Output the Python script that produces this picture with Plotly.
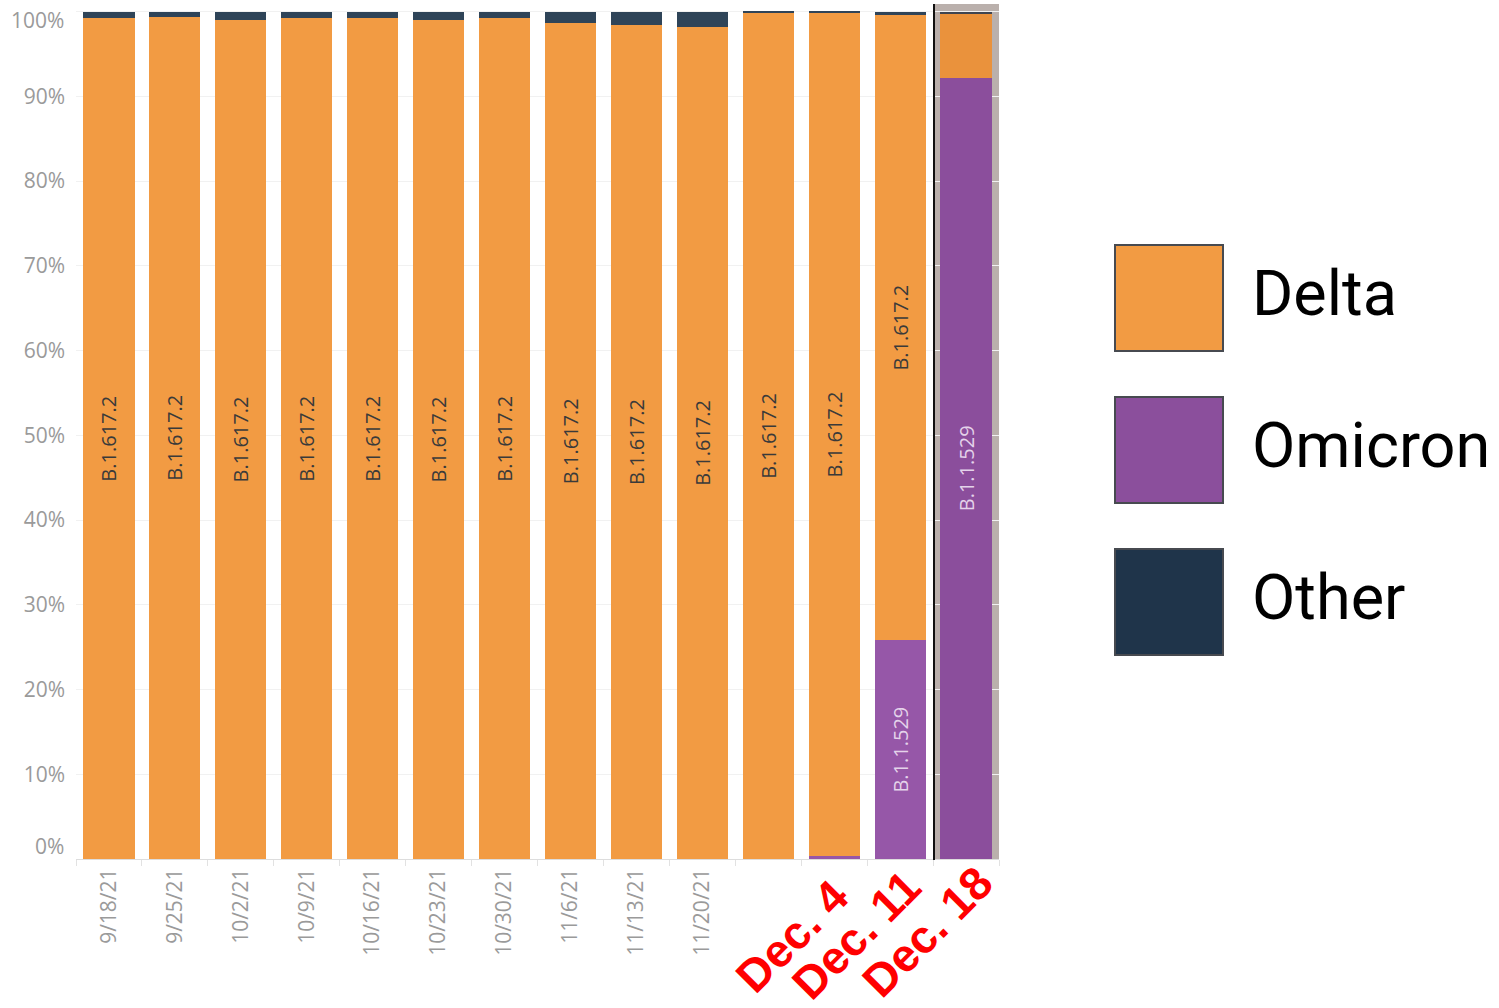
import plotly.graph_objects as go

# ---------------- data ----------------
weeks = ["9/18/21", "9/25/21", "10/2/21", "10/9/21", "10/16/21", "10/23/21", "10/30/21",
         "11/6/21", "11/13/21", "11/20/21", "11/27/21", "12/4/21", "12/11/21", "12/18/21"]
tick_labels = ["9/18/21", "9/25/21", "10/2/21", "10/9/21", "10/16/21", "10/23/21", "10/30/21",
               "11/6/21", "11/13/21", "11/20/21", "", "", "", ""]
highlight_weeks = ["12/4/21", "12/11/21", "12/18/21"]
highlight_labels = ["Dec. 4", "Dec. 11", "Dec. 18"]
y_ticks = [0, 10, 20, 30, 40, 50, 60, 70, 80, 90, 100]
y_tick_labels = ["0%", "10%", "20%", "30%", "40%", "50%", "60%", "70%", "80%", "90%", "100%"]

other_pct = [0.8, 0.6, 1.0, 0.8, 0.8, 1.0, 0.8, 1.4, 1.6, 1.8, 0.15, 0.15, 0.4, 0.25]
omicron_pct = [0, 0, 0, 0, 0, 0, 0, 0, 0, 0, 0, 0.35, 25.8, 92.2]
delta_pct = [100 - o - m for o, m in zip(other_pct, omicron_pct)]

delta_text = ["B.1.617.2"] * 13 + [""]
omicron_text = [""] * 12 + ["B.1.1.529", "B.1.1.529"]

legend_names = ["Delta", "Omicron", "Other"]

# ---------------- styles ----------------
ORANGE = "#F29B43"
PURPLE = "#9657A8"
DARK = "#2F4458"
delta_colors = [ORANGE] * 13 + ["#EA923C"]
omicron_colors = [PURPLE] * 13 + ["#8B4E9C"]
other_colors = [DARK] * 13 + ["#3E4450"]

W, H = 1499, 1008
ML = 76
MR = W - 999
MT = 4
MB = H - 859
PW = W - ML - MR
PH = H - MT - MB
Y_TOP = 100.9


def px(x):
    """pixel x -> paper"""
    return (x - ML) / PW


def py(y):
    """pixel y -> paper"""
    return (H - MB - y) / PH


tick_font = dict(family="Open Sans, Lato, sans-serif", size=21, color="#9A9A9A")
bar_font = "Open Sans, Lato, sans-serif"

fig = go.Figure()
fig.add_trace(go.Bar(
    x=weeks, y=omicron_pct, name="Omicron", marker=dict(color=omicron_colors, line=dict(width=0)),
    text=omicron_text, textposition="inside", insidetextanchor="middle", textangle=-90,
    insidetextfont=dict(family=bar_font, size=20, color="#E4D3EA"), constraintext="none",
    hoverinfo="x+y+name", showlegend=False,
))
fig.add_trace(go.Bar(
    x=weeks, y=delta_pct, name="Delta", marker=dict(color=delta_colors, line=dict(width=0)),
    text=delta_text, textposition="inside", insidetextanchor="middle", textangle=-90,
    insidetextfont=dict(family=bar_font, size=20, color="#3A3A3A"), constraintext="none",
    hoverinfo="x+y+name", showlegend=False,
))
fig.add_trace(go.Bar(
    x=weeks, y=other_pct, name="Other", marker=dict(color=other_colors, line=dict(width=0)),
    textposition="none", hoverinfo="x+y+name", showlegend=False,
))

shapes = []
# highlight box behind the last bar
shapes.append(dict(type="rect", xref="paper", yref="paper", x0=px(934), x1=px(999),
                   y0=0, y1=py(4), fillcolor="#BAB0AC", line=dict(width=0), layer="below"))
shapes.append(dict(type="line", xref="paper", yref="paper", x0=px(934), x1=px(934),
                   y0=py(860), y1=py(4), line=dict(color="#111111", width=2), layer="above"))

annotations = []
# end labels of the y axis are nudged inward (as in the source chart)
axis_tick_text = list(y_tick_labels)
end_shift = {0: 13, 100: -8}
for i, v in enumerate(y_ticks):
    if v in end_shift:
        annotations.append(dict(xref="paper", yref="y", x=0, y=v, xshift=-10, yshift=end_shift[v],
                                text=y_tick_labels[i], showarrow=False, xanchor="right",
                                yanchor="middle", font=tick_font))
        axis_tick_text[i] = ""

# custom legend
leg_colors = ["#F29B43", "#8B4F9C", "#1F344A"]
leg_tops = [245, 397, 549]
for name, col, top in zip(legend_names, leg_colors, leg_tops):
    shapes.append(dict(type="rect", xref="paper", yref="paper",
                       x0=px(1115), x1=px(1223), y0=py(top + 106), y1=py(top),
                       fillcolor=col, line=dict(color="#474A50", width=2)))
    annotations.append(dict(xref="paper", yref="paper", x=px(1250), y=py(top + 48),
                            text=name, showarrow=False, xanchor="left", yanchor="middle",
                            font=dict(family="Roboto, sans-serif", size=63, color="#000000")))

# red highlighted date labels
red_centers_y = [936, 935, 932]
red_offsets_px = [-42, -44, -39]
for wk, lab, cy, off in zip(highlight_weeks, highlight_labels, red_centers_y, red_offsets_px):
    annotations.append(dict(xref="x", yref="paper", x=wk, y=py(cy), xshift=off,
                            text="<b>" + lab + "</b>", showarrow=False, textangle=-45,
                            xanchor="center", yanchor="middle",
                            font=dict(family="Liberation Sans, Arial, sans-serif", size=46,
                                      color="#FF0000")))

fig.update_layout(
    width=W, height=H,
    margin=dict(l=ML, r=MR, t=MT, b=MB, pad=0),
    barmode="stack", bargap=0.225,
    paper_bgcolor="white", plot_bgcolor="white",
    showlegend=False,
    shapes=shapes, annotations=annotations,
    xaxis=dict(
        type="category", categoryorder="array", categoryarray=weeks,
        tickmode="array", tickvals=weeks, ticktext=tick_labels, tickangle=-90, tickfont=tick_font,
        showgrid=False, showline=True, linecolor="#DDDDDD", linewidth=1,
        ticks="outside", tickson="boundaries", ticklen=6, tickcolor="#E2E2E2",
        range=[-0.5, len(weeks) - 0.5], zeroline=False,
    ),
    yaxis=dict(
        range=[0, Y_TOP], tickmode="array", tickvals=y_ticks, ticktext=axis_tick_text,
        tickfont=tick_font, showgrid=True, gridcolor="#F1F1F1", gridwidth=1,
        zeroline=False, showline=False, ticks="", ticklabelstandoff=10,
    ),
)

fig.write_html(
    "out.html",
    config={"displayModeBar": False},
    post_script="document.body.style.margin='0';document.body.style.overflow='hidden';",
)
